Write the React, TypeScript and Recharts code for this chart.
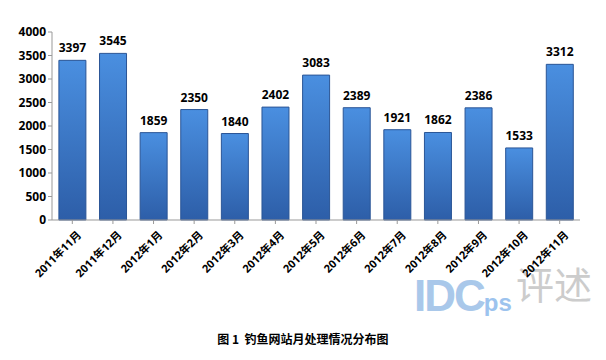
import React from "react";
import { BarChart, Bar, XAxis, YAxis, LabelList } from "recharts";

const months = [
  "2011年11月", "2011年12月", "2012年1月", "2012年2月", "2012年3月", "2012年4月",
  "2012年5月", "2012年6月", "2012年7月", "2012年8月", "2012年9月", "2012年10月", "2012年11月",
];
const counts = [3397, 3545, 1859, 2350, 1840, 2402, 3083, 2389, 1921, 1862, 2386, 1533, 3312];
const yTicks = [0, 500, 1000, 1500, 2000, 2500, 3000, 3500, 4000];
const caption = "图 1  钓鱼网站月处理情况分布图";

const data = months.map((m, i) => ({ month: m, value: counts[i] }));

const FONT = "'Open Sans', 'Noto Sans CJK SC', sans-serif";

const XTick = (props: any) => {
  const { x, y, payload } = props;
  return (
    <g transform={`translate(${x + 4},${y + 4})`}>
      <text
        transform="rotate(-45)"
        textAnchor="end"
        dy={8}
        fontSize={11}
        fontWeight="bold"
        fill="#000"
        fontFamily={FONT}
      >
        {payload.value}
      </text>
    </g>
  );
};

export default function App() {
  return (
    <div style={{ position: "absolute", left: 0, top: 0, width: 606, height: 360, background: "#fff", fontFamily: FONT }}>
      <div
        style={{
          position: "absolute",
          left: 414,
          top: 274,
          fontSize: 44,
          fontWeight: "bold",
          color: "#a9c8ea",
          fontFamily: "'Liberation Sans', sans-serif",
          letterSpacing: -2,
          lineHeight: 1,
        }}
      >
        IDC
        <span style={{ fontSize: 24, color: "#9cc3ee", letterSpacing: 0 }}>ps</span>
      </div>
      <div
        style={{
          position: "absolute",
          left: 516,
          top: 264,
          fontSize: 38,
          color: "#cccccc",
          fontFamily: "'Noto Sans CJK SC', sans-serif",
          lineHeight: 1,
        }}
      >
        评述
      </div>
      <div style={{ position: "absolute", left: 0, top: 0 }}>
        <BarChart
          width={606}
          height={360}
          data={data}
          margin={{ top: 32, right: 26, bottom: 0, left: 0 }}
          barCategoryGap="17%"
        >
          <defs>
            <linearGradient id="barGrad" x1="0" y1="0" x2="0" y2="1">
              <stop offset="0%" stopColor="#4a8fe0" />
              <stop offset="100%" stopColor="#2d5ea8" />
            </linearGradient>
          </defs>
          <XAxis
            dataKey="month"
            interval={0}
            height={140}
            tick={<XTick />}
            tickLine={{ stroke: "#999" }}
            axisLine={{ stroke: "#999" }}
            tickSize={4}
          />
          <YAxis
            width={52}
            domain={[0, 4000]}
            ticks={yTicks}
            interval={0}
            tickSize={4}
            tickLine={{ stroke: "#999" }}
            axisLine={{ stroke: "#999" }}
            tick={{ fontSize: 12, fontWeight: "bold", fill: "#000", fontFamily: FONT }}
          />
          <Bar dataKey="value" fill="url(#barGrad)" stroke="#2a5596" strokeWidth={1} isAnimationActive={false}>
            <LabelList
              dataKey="value"
              position="top"
              offset={8}
              style={{ fontSize: 12, fontWeight: "bold", fill: "#000", fontFamily: FONT }}
            />
          </Bar>
        </BarChart>
      </div>
      <div
        style={{
          position: "absolute",
          left: 0,
          width: 606,
          top: 330,
          textAlign: "center",
          fontSize: 12,
          fontWeight: "bold",
          color: "#000",
          fontFamily: "'Noto Sans CJK SC', sans-serif",
          whiteSpace: "pre",
        }}
      >
        {caption}
      </div>
    </div>
  );
}
